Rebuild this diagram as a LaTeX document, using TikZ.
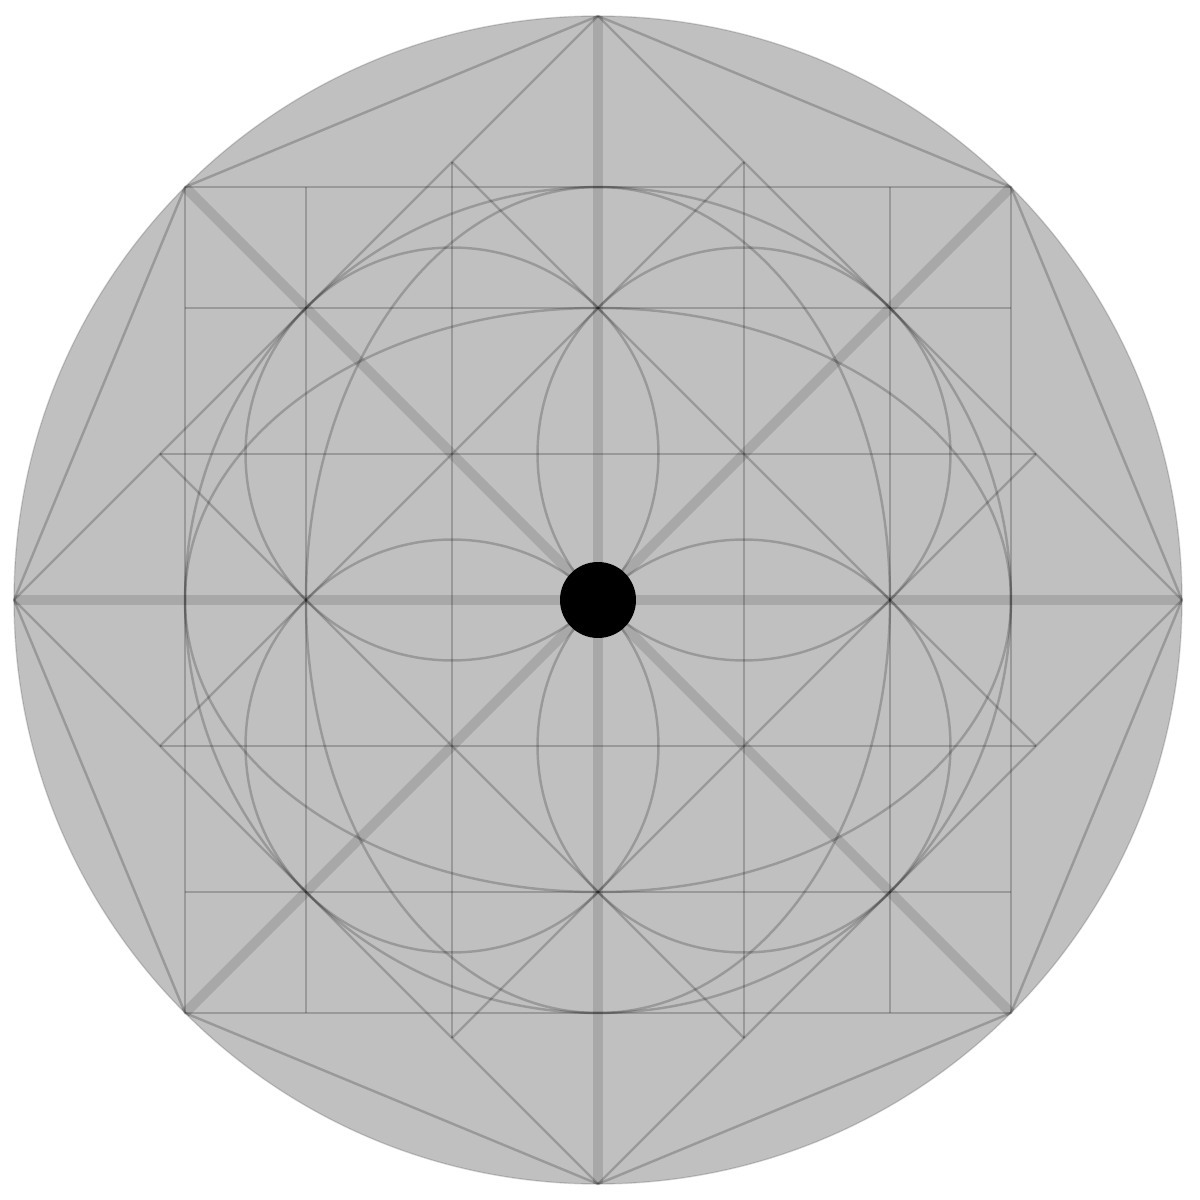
\documentclass[tikz,border=0pt]{standalone}
\usepackage{tikz}
\definecolor{discfill}{HTML}{C0C0C0}
\tikzset{
  thinline/.style={draw=black, draw opacity=0.2, line width=0.7pt},
  thickline/.style={draw=black, draw opacity=0.12, line width=2.9pt},
  disc/.style={fill=discfill, draw=black, draw opacity=0.15, line width=0.4pt},
  hub/.style={fill=black, draw=none}
}
\begin{document}
\begin{tikzpicture}[x=1.46cm, y=1.46cm]
\useasboundingbox (-4.0959,-4.1096) rectangle (4.1233,4.1096);
\def\rr{2.8284}
\def\rs{1.4142}
% outer disc
\path[disc] (0,0) circle (4);
% thick diameters
\draw[thickline] (0,4) -- (0,-4);
\draw[thickline] (-4,0) -- (4,0);
\draw[thickline] (45:4) -- (225:4);
\draw[thickline] (135:4) -- (315:4);
% octagon
\foreach \a in {0,45,...,315}{
  \draw[thinline] (\a:4) -- (\a+45:4);
}
% big diamond
\draw[thinline] (4,0) -- (0,4);
\draw[thinline] (0,4) -- (-4,0);
\draw[thinline] (-4,0) -- (0,-4);
\draw[thinline] (0,-4) -- (4,0);
% inscribed square
\draw[thinline] (-\rr,-\rr) rectangle (\rr,\rr);
% grid lines at 2
\draw[thinline] (2,-\rr) -- (2,\rr);
\draw[thinline] (-2,-\rr) -- (-2,\rr);
\draw[thinline] (-\rr,2) -- (\rr,2);
\draw[thinline] (-\rr,-2) -- (\rr,-2);
% grid lines at 1
\draw[thinline] (1,-3) -- (1,3);
\draw[thinline] (-1,-3) -- (-1,3);
\draw[thinline] (-3,1) -- (3,1);
\draw[thinline] (-3,-1) -- (3,-1);
% slanted lines
\draw[thinline] (-1,3) -- (3,-1);
\draw[thinline] (-3,1) -- (1,-3);
\draw[thinline] (3,1) -- (-1,-3);
\draw[thinline] (1,3) -- (-3,-1);
% circles and ellipses
\draw[thinline] (0,0) circle (\rr);
\draw[thinline] (0,0) ellipse [x radius=\rr, y radius=2];
\draw[thinline] (0,0) ellipse [x radius=2, y radius=\rr];
\draw[thinline] (1,1) circle (\rs);
\draw[thinline] (-1,1) circle (\rs);
\draw[thinline] (1,-1) circle (\rs);
\draw[thinline] (-1,-1) circle (\rs);
% central dot
\node[hub, circle, minimum size=0.76cm, inner sep=0pt] (centre) at (0,0) {};
\end{tikzpicture}
\end{document}
